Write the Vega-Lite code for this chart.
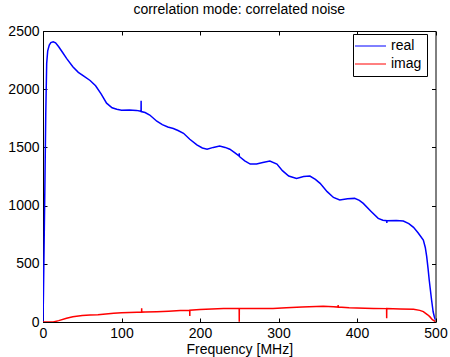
{
  "$schema": "https://vega.github.io/schema/vega-lite/v6.json",
  "width": 392.5,
  "height": 291,
  "autosize": "none",
  "padding": {"left": 43, "top": 31, "right": 14, "bottom": 35},
  "background": "white",
  "title": {"text": "correlation mode: correlated noise", "font": "Liberation Sans", "fontSize": 14, "fontWeight": "normal", "color": "black", "offset": 7},
  "config": {
    "view": {"stroke": "black", "strokeWidth": 1},
    "legend": {"strokeColor": "black", "fillColor": "white"},
    "axis": {"domainColor": "black", "tickColor": "black", "labelColor": "black", "titleColor": "black", "labelFont": "Liberation Sans", "titleFont": "Liberation Sans", "labelFontSize": 14, "titleFontSize": 14, "titleFontWeight": "normal", "grid": false, "labelPadding": 4, "format": "d", "labelFlush": false, "labelOverlap": false}
  },
  "datasets": {
    "curves": [
      {"f": 0, "value": 0, "series": "real"},
      {"f": 0.6, "value": 250, "series": "real"},
      {"f": 1.5, "value": 700, "series": "real"},
      {"f": 2.5, "value": 1220, "series": "real"},
      {"f": 3.5, "value": 1780, "series": "real"},
      {"f": 4.7, "value": 2222, "series": "real"},
      {"f": 6, "value": 2330, "series": "real"},
      {"f": 8, "value": 2380, "series": "real"},
      {"f": 10, "value": 2400, "series": "real"},
      {"f": 13, "value": 2408, "series": "real"},
      {"f": 16, "value": 2398, "series": "real"},
      {"f": 20, "value": 2365, "series": "real"},
      {"f": 25, "value": 2315, "series": "real"},
      {"f": 30, "value": 2265, "series": "real"},
      {"f": 38, "value": 2193, "series": "real"},
      {"f": 45, "value": 2145, "series": "real"},
      {"f": 52, "value": 2112, "series": "real"},
      {"f": 60, "value": 2075, "series": "real"},
      {"f": 67, "value": 2030, "series": "real"},
      {"f": 74, "value": 1960, "series": "real"},
      {"f": 81, "value": 1880, "series": "real"},
      {"f": 88, "value": 1840, "series": "real"},
      {"f": 94, "value": 1827, "series": "real"},
      {"f": 100, "value": 1820, "series": "real"},
      {"f": 110, "value": 1822, "series": "real"},
      {"f": 119, "value": 1818, "series": "real"},
      {"f": 124.9, "value": 1810, "series": "real"},
      {"f": 125, "value": 1900, "series": "real"},
      {"f": 125.1, "value": 1808, "series": "real"},
      {"f": 130, "value": 1800, "series": "real"},
      {"f": 136, "value": 1778, "series": "real"},
      {"f": 145, "value": 1725, "series": "real"},
      {"f": 152, "value": 1695, "series": "real"},
      {"f": 159, "value": 1675, "series": "real"},
      {"f": 166, "value": 1662, "series": "real"},
      {"f": 172, "value": 1645, "series": "real"},
      {"f": 179, "value": 1621, "series": "real"},
      {"f": 187, "value": 1570, "series": "real"},
      {"f": 196, "value": 1521, "series": "real"},
      {"f": 203, "value": 1495, "series": "real"},
      {"f": 209, "value": 1484, "series": "real"},
      {"f": 217, "value": 1500, "series": "real"},
      {"f": 225, "value": 1512, "series": "real"},
      {"f": 232, "value": 1500, "series": "real"},
      {"f": 238, "value": 1484, "series": "real"},
      {"f": 245, "value": 1450, "series": "real"},
      {"f": 249.9, "value": 1425, "series": "real"},
      {"f": 250, "value": 1450, "series": "real"},
      {"f": 250.1, "value": 1422, "series": "real"},
      {"f": 257, "value": 1385, "series": "real"},
      {"f": 264, "value": 1357, "series": "real"},
      {"f": 272, "value": 1357, "series": "real"},
      {"f": 280, "value": 1370, "series": "real"},
      {"f": 289, "value": 1383, "series": "real"},
      {"f": 298, "value": 1357, "series": "real"},
      {"f": 305, "value": 1300, "series": "real"},
      {"f": 313, "value": 1254, "series": "real"},
      {"f": 323, "value": 1234, "series": "real"},
      {"f": 332, "value": 1250, "series": "real"},
      {"f": 340, "value": 1254, "series": "real"},
      {"f": 347, "value": 1225, "series": "real"},
      {"f": 353, "value": 1191, "series": "real"},
      {"f": 362, "value": 1120, "series": "real"},
      {"f": 370, "value": 1070, "series": "real"},
      {"f": 378, "value": 1048, "series": "real"},
      {"f": 388, "value": 1058, "series": "real"},
      {"f": 397, "value": 1062, "series": "real"},
      {"f": 403, "value": 1045, "series": "real"},
      {"f": 408, "value": 1019, "series": "real"},
      {"f": 418, "value": 950, "series": "real"},
      {"f": 427, "value": 890, "series": "real"},
      {"f": 433, "value": 875, "series": "real"},
      {"f": 437.9, "value": 870, "series": "real"},
      {"f": 438, "value": 850, "series": "real"},
      {"f": 438.1, "value": 870, "series": "real"},
      {"f": 450, "value": 872, "series": "real"},
      {"f": 459, "value": 868, "series": "real"},
      {"f": 466, "value": 845, "series": "real"},
      {"f": 472, "value": 813, "series": "real"},
      {"f": 478, "value": 765, "series": "real"},
      {"f": 484.5, "value": 704, "series": "real"},
      {"f": 487, "value": 640, "series": "real"},
      {"f": 488.8, "value": 561, "series": "real"},
      {"f": 490.5, "value": 460, "series": "real"},
      {"f": 492, "value": 361, "series": "real"},
      {"f": 493, "value": 303, "series": "real"},
      {"f": 495, "value": 189, "series": "real"},
      {"f": 497, "value": 88, "series": "real"},
      {"f": 498.5, "value": 45, "series": "real"},
      {"f": 500, "value": 17, "series": "real"},
      {"f": 0, "value": 0, "series": "imag"},
      {"f": 13, "value": 0, "series": "imag"},
      {"f": 20, "value": 12, "series": "imag"},
      {"f": 30, "value": 33, "series": "imag"},
      {"f": 38, "value": 46, "series": "imag"},
      {"f": 50, "value": 55, "series": "imag"},
      {"f": 60, "value": 60, "series": "imag"},
      {"f": 70, "value": 62, "series": "imag"},
      {"f": 80, "value": 68, "series": "imag"},
      {"f": 90, "value": 75, "series": "imag"},
      {"f": 100, "value": 80, "series": "imag"},
      {"f": 110, "value": 82, "series": "imag"},
      {"f": 120, "value": 84, "series": "imag"},
      {"f": 125.6, "value": 85, "series": "imag"},
      {"f": 125.7, "value": 117, "series": "imag"},
      {"f": 125.8, "value": 85, "series": "imag"},
      {"f": 130, "value": 86, "series": "imag"},
      {"f": 145, "value": 89, "series": "imag"},
      {"f": 160, "value": 93, "series": "imag"},
      {"f": 175, "value": 98, "series": "imag"},
      {"f": 186.9, "value": 101, "series": "imag"},
      {"f": 187, "value": 51, "series": "imag"},
      {"f": 187.1, "value": 101, "series": "imag"},
      {"f": 200, "value": 107, "series": "imag"},
      {"f": 215, "value": 112, "series": "imag"},
      {"f": 230, "value": 117, "series": "imag"},
      {"f": 249.9, "value": 117, "series": "imag"},
      {"f": 250, "value": 3, "series": "imag"},
      {"f": 250.1, "value": 117, "series": "imag"},
      {"f": 270, "value": 117, "series": "imag"},
      {"f": 293, "value": 117, "series": "imag"},
      {"f": 310, "value": 122, "series": "imag"},
      {"f": 330, "value": 128, "series": "imag"},
      {"f": 357, "value": 135, "series": "imag"},
      {"f": 370, "value": 130, "series": "imag"},
      {"f": 375.9, "value": 128, "series": "imag"},
      {"f": 376, "value": 146, "series": "imag"},
      {"f": 376.1, "value": 128, "series": "imag"},
      {"f": 390, "value": 122, "series": "imag"},
      {"f": 410, "value": 119, "series": "imag"},
      {"f": 421, "value": 117, "series": "imag"},
      {"f": 437.7, "value": 115, "series": "imag"},
      {"f": 437.8, "value": 32, "series": "imag"},
      {"f": 437.9, "value": 115, "series": "imag"},
      {"f": 455, "value": 112, "series": "imag"},
      {"f": 472, "value": 109, "series": "imag"},
      {"f": 480, "value": 100, "series": "imag"},
      {"f": 484.5, "value": 89, "series": "imag"},
      {"f": 490, "value": 62, "series": "imag"},
      {"f": 492.7, "value": 46, "series": "imag"},
      {"f": 496, "value": 20, "series": "imag"},
      {"f": 500, "value": 3, "series": "imag"}
    ]
  },
  "data": {"name": "curves"},
  "layer": [
    {
      "mark": {"type": "line", "strokeWidth": 1.5, "clip": true},
      "encoding": {
        "x": {"field": "f", "type": "quantitative", "scale": {"domain": [0, 500], "nice": false, "zero": false}, "axis": {"orient": "bottom", "values": [0, 100, 200, 300, 400, 500], "ticks": false, "title": "Frequency [MHz]", "titlePadding": 2}},
        "y": {"field": "value", "type": "quantitative", "scale": {"domain": [0, 2500], "nice": false}, "axis": {"orient": "left", "values": [0, 500, 1000, 1500, 2000, 2500], "ticks": false, "title": null}},
        "color": {"field": "series", "type": "nominal", "scale": {"domain": ["real", "imag"], "range": ["#0000ff", "#ff0000"]},
          "legend": {"title": null, "orient": "none", "legendX": 310, "legendY": 3, "symbolType": "M-2,0H4.2", "symbolSize": 100, "symbolStrokeWidth": 1, "labelFont": "Liberation Sans", "labelFontSize": 14, "labelColor": "black", "padding": 5, "rowPadding": 4, "labelOffset": 19}}
      }
    },
    {
      "mark": {"type": "line", "opacity": 0},
      "encoding": {
        "x": {"field": "f", "type": "quantitative", "scale": {"domain": [0, 500], "nice": false, "zero": false}, "axis": {"orient": "bottom", "offset": -4, "ticks": true, "tickSize": 4, "tickWidth": 1, "tickColor": "black", "domain": false, "values": [0, 100, 200, 300, 400, 500], "labels": false, "title": null}},
        "y": {"field": "value", "type": "quantitative", "scale": {"domain": [0, 2500], "nice": false}, "axis": {"orient": "left", "offset": -4, "ticks": true, "tickSize": 4, "tickWidth": 1, "tickColor": "black", "domain": false, "values": [0, 500, 1000, 1500, 2000, 2500], "labels": false, "title": null}}
      }
    },
    {
      "mark": {"type": "line", "opacity": 0},
      "encoding": {
        "x": {"field": "f", "type": "quantitative", "scale": {"domain": [0, 500], "nice": false, "zero": false}, "axis": {"orient": "top", "offset": -4, "ticks": true, "tickSize": 4, "tickWidth": 1, "tickColor": "black", "domain": false, "values": [0, 100, 200, 300, 400, 500], "labels": false, "title": null}},
        "y": {"field": "value", "type": "quantitative", "scale": {"domain": [0, 2500], "nice": false}, "axis": {"orient": "right", "offset": -4, "ticks": true, "tickSize": 4, "tickWidth": 1, "tickColor": "black", "domain": false, "values": [0, 500, 1000, 1500, 2000, 2500], "labels": false, "title": null}}
      }
    }
  ],
  "resolve": {"axis": {"x": "independent", "y": "independent"}}
}
